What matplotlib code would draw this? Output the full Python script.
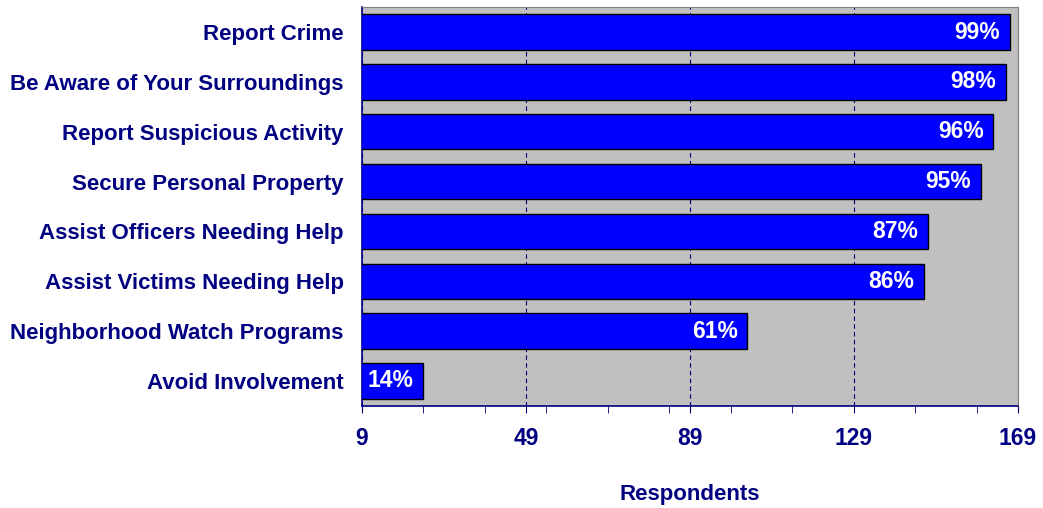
import matplotlib.pyplot as plt
from matplotlib.ticker import FixedLocator

plt.rcParams['font.family'] = ['Liberation Sans', 'DejaVu Sans']
plt.rcParams['font.weight'] = 'bold'

# survey answers, count of respondents out of the total
categories = ['Report Crime', 'Be Aware of Your Surroundings', 'Report Suspicious Activity',
              'Secure Personal Property', 'Assist Officers Needing Help',
              'Assist Victims Needing Help', 'Neighborhood Watch Programs', 'Avoid Involvement']
counts = [167, 166, 163, 160, 147, 146, 103, 24]
total = 169

x_ticks = [9, 49, 89, 129, 169]

navy = '#000080'

fig = plt.figure(figsize=(10.43, 5.08), dpi=100)
ax = fig.add_axes([0.347, 0.201, 0.629, 0.785])
ax.set_facecolor('#C0C0C0')

ypos = list(range(len(categories)))
bars = ax.barh(ypos, counts, height=0.71, color='#0000FF', edgecolor='black', linewidth=1, zorder=3)

for b, c in zip(bars, counts):
    pct = round(100 * c / total)
    ax.text(b.get_width() - 2.4, b.get_y() + b.get_height() / 2, f'{pct}%',
            ha='right', va='center', color='white', fontsize=16.5, fontweight='bold', zorder=4)

ax.set_xlim(9, 169)
ax.set_ylim(len(categories) - 0.5, -0.5)
ax.xaxis.set_major_locator(FixedLocator(x_ticks))
ax.xaxis.set_minor_locator(FixedLocator(range(9, 170, 15)))
ax.grid(axis='x', which='major', color=navy, linestyle=(0, (4, 3)), linewidth=0.8, zorder=1)

ax.set_yticks(ypos)
ax.set_yticklabels(categories, fontsize=16, color=navy)
ax.tick_params(axis='y', length=0, pad=13)
ax.tick_params(axis='x', which='both', direction='out', length=5, color=navy,
               labelsize=16.5, labelcolor=navy, pad=10)

ax.set_xlabel('Respondents', fontsize=16, fontweight='bold', color=navy, labelpad=25)

for side in ['top', 'right']:
    ax.spines[side].set_color('#808080')
for side in ['left', 'bottom']:
    ax.spines[side].set_color(navy)
    ax.spines[side].set_linewidth(1.2)

fig.savefig('out.png', dpi=100)
